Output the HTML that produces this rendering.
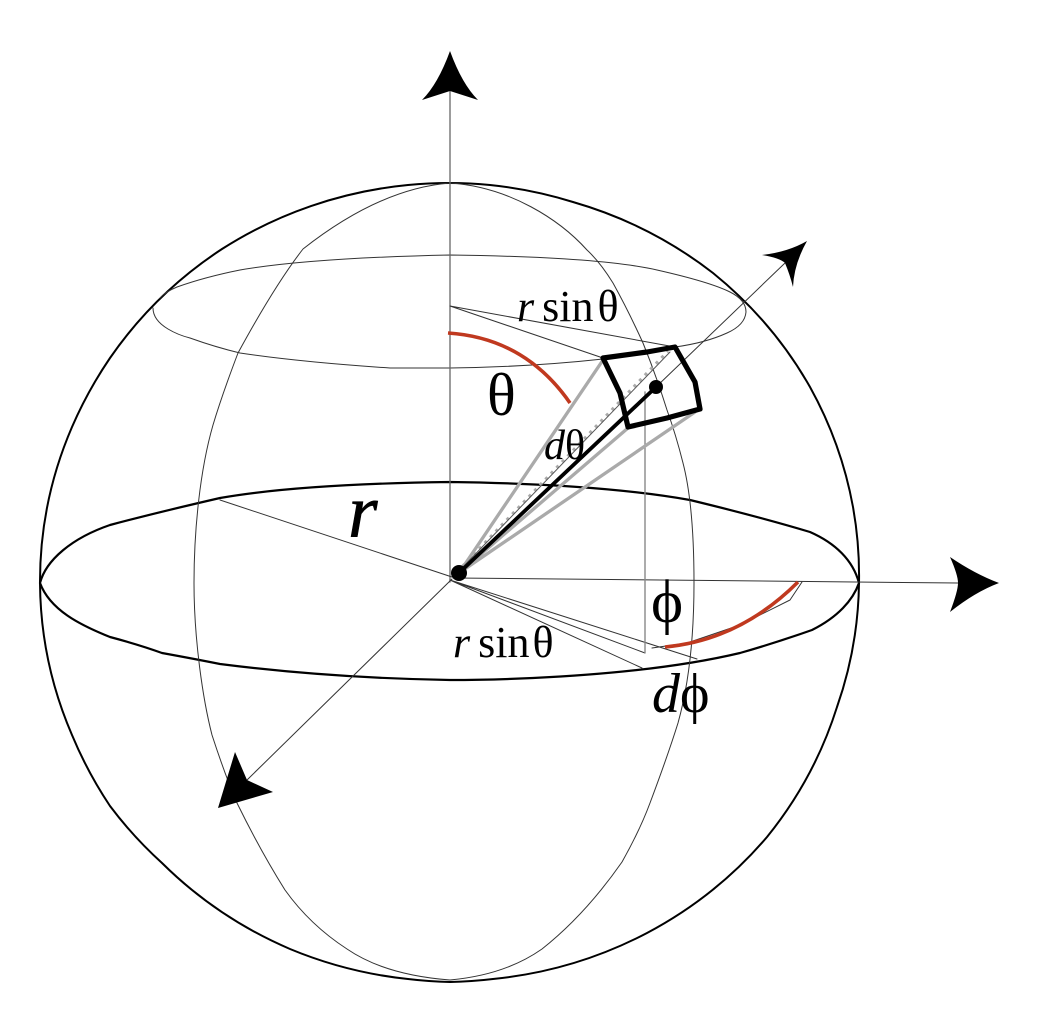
<!DOCTYPE html>
<html><head><meta charset="utf-8"><style>
html,body{margin:0;padding:0;background:#fff}
svg{display:block}
text{font-family:"Liberation Serif",serif;fill:#000}
</style></head><body>
<svg width="1046" height="1026" viewBox="0 0 1046 1026" xmlns="http://www.w3.org/2000/svg">
<rect width="1046" height="1026" fill="#fff"/>
<g fill="none" stroke-linejoin="round" stroke-linecap="round">
<!-- sphere -->
<path d="M40 583A412 400 0 0 1 72 427A430 420 0 0 1 110 358A412 400 0 0 1 222 249A412 400 0 0 1 408 185A412 400 0 0 1 450 183A412 400 0 0 1 490 185A412 400 0 0 1 573 202A412 400 0 0 1 713 273A412 400 0 0 1 810 387A412 400 0 0 1 853 507A412 400 0 0 1 859 583A412 400 0 0 1 837 707A412 400 0 0 1 767 837A412 400 0 0 1 647 933A412 400 0 0 1 493 979A412 400 0 0 1 450 982A412 400 0 0 1 408 979A412 400 0 0 1 290 949A412 400 0 0 1 162 863A412 400 0 0 1 110 806A430 420 0 0 1 72 735A412 400 0 0 1 40 583Z" stroke="#000" stroke-width="2"/>
<!-- equator -->
<path d="M40 583C46 560 72 538 110 525Q155 513 220 498Q300 484 450 482Q600 484 690 500Q760 517 810 532C835 543 853 560 859 583C853 600 838 617 812 630Q775 643 740 653Q660 672 533 678Q490 680 450 680Q330 678 220 664Q195 659 162 653Q140 645 110 637C80 625 50 610 40 583Z" stroke="#000" stroke-width="2.200"/>
<!-- upper ring -->
<path d="M160 298Q165 292 177 287Q205 277 240 270Q310 258 450 255Q600 257 657 270Q710 282 730 292Q746 300 746 312Q745 325 727 333Q705 343 675 347M153 308Q153 320 168 329Q178 335 190 338Q215 347 240 353Q300 362 390 368L450 368Q530 367 603 359" stroke="#333" stroke-width="1"/>
<!-- meridian -->
<path d="M450 183C400 187 350 212 303 249Q275 285 238 353Q222 395 213 425C200 470 194 530 194 583C194 640 203 700 212 735Q225 775 237 803Q260 850 285 890Q310 925 347 949Q385 975 450 980Q505 975 542 949Q585 915 622 862Q640 830 650 803Q668 755 678 723C690 680 694 630 694 583C694 530 690 490 683 463Q676 435 667 410Q656 375 643 343Q628 310 613 283Q600 262 587 250C560 220 510 187 450 183Z" stroke="#333" stroke-width="1"/>
<!-- axes -->
<path d="M450 91V582" stroke="#666" stroke-width="1.300"/>
<path d="M455 578L958 583" stroke="#333" stroke-width="1"/>
<path d="M656 387L785 263" stroke="#333" stroke-width="1"/>
<path d="M452 579L247 780" stroke="#333" stroke-width="1"/>
<path d="M220 500L452 577" stroke="#333" stroke-width="1"/>
<!-- r sin theta lines -->
<path d="M450 306L675 347M450 306L603 358" stroke="#333" stroke-width="1"/>
<path d="M450 580L697 659M450 580L645 653M450 580L642 668" stroke="#333" stroke-width="1"/>
<path d="M645 392V653" stroke="#888" stroke-width="1.400"/>
<path d="M652 648L687 643L740 625L790 600L802 582" stroke="#333" stroke-width="1"/>
<!-- grey wedge -->
<path d="M459 573L603 360M459 573L628 428M459 573L695 412" stroke="#aaa" stroke-width="3.300"/>
<path d="M457 572L668 351" stroke="#aaa" stroke-width="3" stroke-dasharray="3 5" stroke-linecap="butt"/>
<path d="M460 570L670 352" stroke="#555" stroke-width="1"/>
<!-- radial -->
<path d="M459 573L656 387" stroke="#000" stroke-width="3.800"/>
<!-- box -->
<path d="M603 358L647 352L675 347L695 382L700 409L667 418L628 427L620 393Z" stroke="#000" stroke-width="5.200"/>
<!-- red arcs -->
<path d="M448 333Q525 338 570 403" stroke="#c0391f" stroke-width="3.600" stroke-linecap="butt"/>
<path d="M665 647Q740 640 798 582" stroke="#c0391f" stroke-width="3.600" stroke-linecap="butt"/>
</g>
<!-- dots -->
<circle cx="459" cy="573" r="8" fill="#000"/>
<circle cx="656" cy="387" r="7" fill="#000"/>
<!-- arrowheads -->
<path d="M450 51Q462 84 478 100L450 91L422 100Q438 84 450 51Z" fill="#000"/>
<path d="M999 583Q975 574 950 557Q958 575 958 583Q958 591 950 612Q975 592 999 583Z" fill="#000"/>
<path d="M807 241Q788 252 762 255Q780 258 785 263Q790 275 793 287Q794 264 807 241Z" fill="#000"/>
<path d="M218 808L235 752L247 780L273 792Z" fill="#000"/>
<!-- labels -->
<text x="348" y="537" font-size="76" font-style="italic" stroke="#000" stroke-width="0.600">r</text>
<text x="487" y="415" font-size="60">θ</text>
<text x="517" y="321" font-size="44"><tspan font-style="italic">r</tspan><tspan dx="8">sin</tspan><tspan dx="4">θ</tspan></text>
<text x="453" y="657" font-size="44"><tspan font-style="italic">r</tspan><tspan dx="8">sin</tspan><tspan dx="3">θ</tspan></text>
<text x="544" y="459" font-size="42"><tspan font-style="italic">d</tspan>θ</text>
<text x="651" y="622" font-size="61">ϕ</text>
<text x="652" y="712" font-size="56"><tspan font-style="italic">d</tspan>ϕ</text>
</svg>
</body></html>
